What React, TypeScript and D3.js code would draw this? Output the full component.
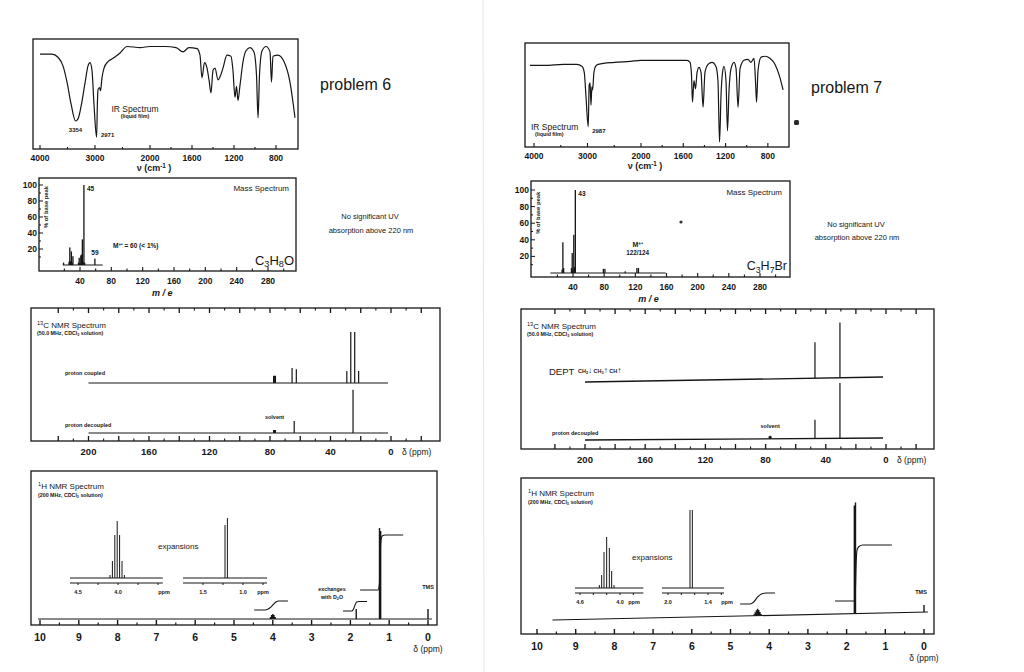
import React, { useEffect, useRef } from 'react';
import * as d3 from 'd3';

type Pt = [number, number];

// ---------------- IR spectra: [wavenumber cm-1, % transmittance] ----------------
const irTicks = [4000, 3000, 2000, 1600, 1200, 800];
const irMinor = [3500, 2500, 1800, 1400, 1000];

const ir6: Pt[] = [
  [4000, 87], [3782, 87], [3673, 84], [3582, 76], [3509, 61], [3436, 41], [3354, 25],
  [3309, 27], [3255, 38], [3182, 60], [3127, 76], [3091, 79], [3055, 72], [3018, 40],
  [2971, 10], [2955, 44], [2945, 54], [2918, 56], [2900, 53], [2873, 65], [2836, 74],
  [2764, 80], [2673, 83], [2545, 88], [2418, 94], [2182, 93], [2000, 94], [1857, 94],
  [1752, 93], [1686, 89], [1629, 93], [1552, 92], [1524, 86], [1505, 65], [1481, 79],
  [1457, 74], [1438, 63], [1419, 51], [1400, 72], [1381, 74], [1352, 63], [1333, 66],
  [1305, 74], [1267, 86], [1229, 85], [1210, 72], [1191, 47], [1176, 57], [1162, 44],
  [1143, 58], [1114, 80], [1086, 90], [1048, 93], [1010, 89], [986, 68], [971, 28],
  [957, 68], [933, 90], [895, 94], [857, 89], [843, 61], [829, 85], [781, 86],
  [724, 80], [667, 61], [619, 28],
];

const ir7: Pt[] = [
  [4075, 79], [3800, 79], [3450, 80], [3200, 80], [3100, 78], [3060, 72], [3030, 50],
  [2987, 19], [2968, 60], [2952, 62], [2935, 40], [2918, 58], [2905, 55], [2880, 72],
  [2850, 78], [2800, 80], [2500, 82], [2200, 83], [2000, 84], [1565, 84], [1536, 82],
  [1522, 69], [1513, 43], [1499, 64], [1484, 56], [1470, 72], [1451, 77], [1432, 72],
  [1413, 38], [1395, 72], [1366, 80], [1328, 82], [1291, 78], [1272, 64], [1257, 4],
  [1243, 50], [1229, 72], [1215, 78], [1196, 64], [1182, 15], [1167, 55], [1148, 76],
  [1120, 82], [1101, 76], [1082, 38], [1063, 76], [1026, 84], [988, 85], [960, 82],
  [931, 86], [917, 64], [907, 43], [893, 74], [865, 87], [827, 88], [780, 86],
  [732, 80], [694, 70], [656, 55],
];

// ---------------- mass spectra: [m/e, % of base peak] ----------------
const msTicks = [40, 80, 120, 160, 200, 240, 280];
const msYTicks = [20, 40, 60, 80, 100];

const ms6: Pt[] = [
  [19, 3], [26, 4], [27, 22], [28, 5], [29, 17], [30, 3], [31, 11], [38, 3], [39, 9],
  [40, 2], [41, 12], [42, 13], [43, 32], [44, 4], [45, 100], [46, 3], [59, 8],
];
const ms6Base: Pt = [18, 69];

const ms7: Pt[] = [
  [26, 4], [27, 37], [28, 6], [38, 6], [39, 24], [40, 4], [41, 46], [42, 7], [43, 100],
  [79, 5], [81, 5], [107, 2], [122, 6], [124, 6],
];
const ms7Base: Pt = [11, 159];

// ---------------- 13C NMR: [ppm, intensity] ----------------
const c13Labels = [200, 160, 120, 80, 40, 0];

const c6Coupled: Pt[] = [
  [77.6, 12], [77.0, 12], [76.4, 12], [65.4, 25], [62.6, 23],
  [29.2, 20], [26.6, 85], [24.0, 85], [21.4, 20],
];
const c6Decoupled: Pt[] = [[77.6, 5], [77.0, 5], [76.4, 5], [64.0, 20], [25.1, 72]];

const c7Dept: Pt[] = [[47.2, 60], [30.6, 92]];
const c7Decoupled: Pt[] = [[77.6, 4], [77.0, 5], [76.4, 4], [47.2, 31], [30.6, 92]];

// ---------------- 1H NMR: [ppm, intensity] ----------------
const h1Labels = [10, 9, 8, 7, 6, 5, 4, 3, 2, 1, 0];

const h6Peaks: Pt[] = [
  [4.06, 2], [4.03, 4], [4.0, 5], [3.97, 4], [3.94, 2], [1.85, 10], [1.25, 91], [1.22, 88], [0, 10],
];
const h6Integrals: Pt[][] = [
  [[4.48, 9], [4.2, 9], [4.08, 11], [4.0, 14], [3.92, 17], [3.85, 18], [3.61, 18]],
  [[2.19, 8], [1.96, 8], [1.92, 10], [1.88, 14], [1.84, 17], [1.78, 17.5], [1.57, 17.5]],
  [[1.75, 29], [1.29, 29], [1.255, 34], [1.235, 60], [1.215, 78], [1.18, 83], [1.1, 84], [0.64, 84]],
];
const h6ExpA: Pt[] = [[4.1, 3], [4.07, 17], [4.04, 43], [4.01, 57], [3.98, 43], [3.95, 17], [3.92, 3]];
const h6ExpB: Pt[] = [[1.225, 53], [1.195, 60]];

const h7Peaks: Pt[] = [
  [4.39, 1.5], [4.36, 3.5], [4.33, 5.5], [4.3, 7], [4.27, 5.5], [4.24, 3.5], [4.21, 1.5],
  [1.8, 108], [1.77, 111], [0, 7],
];
const h7Drift: Pt = [9.6, -0.1]; // baseline rises from left to right
const h7Integrals: Pt[][] = [
  [[4.75, 16], [4.5, 16], [4.4, 18], [4.3, 23], [4.2, 26], [4.08, 27], [3.85, 27]],
  [[2.3, 19], [1.81, 19], [1.775, 28], [1.755, 55], [1.73, 70], [1.68, 73.5], [1.58, 75], [0.83, 75]],
];
const h7ExpA: Pt[] = [[4.31, 3], [4.275, 13], [4.24, 36], [4.2, 51], [4.16, 40], [4.125, 17], [4.09, 3]];
const h7ExpB: Pt[] = [[1.67, 78], [1.635, 78]];

// ------------------------------------------------------------------
const FONT = '"Liberation Sans", Arial, Helvetica, sans-serif';
const INK = '#161616';

type Sel = d3.Selection<SVGGElement, unknown, null, undefined>;
type Opts = { anchor?: string; weight?: string; italic?: boolean };

function txt(g: Sel, x: number, y: number, s: string, size: number, o: Opts = {}) {
  return g
    .append('text')
    .attr('x', x)
    .attr('y', y + size * 0.35)
    .attr('font-family', FONT)
    .attr('font-size', size)
    .attr('font-weight', o.weight ?? 'normal')
    .attr('font-style', o.italic ? 'italic' : 'normal')
    .attr('text-anchor', o.anchor ?? 'start')
    .attr('fill', INK)
    .text(s);
}

// parts: [text, shift, size?] where shift 1 = subscript, -1 = superscript
function rich(g: Sel, x: number, y: number, parts: [string, number, number?][], size: number, o: Opts = {}) {
  const t = txt(g, x, y, '', size, o);
  let off = 0;
  parts.forEach(([s, shift, own]) => {
    const target = shift * size * (shift > 0 ? 0.2 : 0.35);
    t.append('tspan')
      .attr('dy', target - off)
      .attr('font-size', own ?? (shift ? size * 0.7 : size))
      .text(s);
    off = target;
  });
  return t;
}

function frame(g: Sel, x0: number, y0: number, x1: number, y1: number) {
  g.append('rect')
    .attr('x', x0).attr('y', y0)
    .attr('width', x1 - x0).attr('height', y1 - y0)
    .attr('fill', 'none').attr('stroke', INK).attr('stroke-width', 1.3);
}

function vticks(g: Sel, xs: number[], y: number, len: number, w = 1.1) {
  g.append('path')
    .attr('d', xs.map((x) => `M${x},${y}v${len}`).join(''))
    .attr('stroke', INK).attr('stroke-width', w);
}

function sticks(
  g: Sel, peaks: Pt[], x: (v: number) => number, base: (p: number) => number,
  h: (v: number) => number, w = 1,
) {
  g.append('path')
    .attr('d', peaks.map(([p, v]) => `M${x(p)},${base(p)}V${base(p) - h(v)}`).join(''))
    .attr('stroke', INK).attr('stroke-width', w).attr('fill', 'none');
}

function seg(g: Sel, x0: number, y0: number, x1: number, y1: number, w = 1) {
  g.append('line').attr('x1', x0).attr('y1', y0).attr('x2', x1).attr('y2', y1)
    .attr('stroke', INK).attr('stroke-width', w);
}

// ---------------- IR ----------------
function irPanel(g: Sel, box: number[], xr: number[], trace: Pt[]) {
  const [x0, y0, x1, y1] = box;
  frame(g, x0, y0, x1, y1);
  const x = d3.scaleLinear().domain([4000, 2000, 600]).range(xr);
  const y = d3.scaleLinear().domain([0, 100]).range([y1 - 1, y0 + 1]);
  vticks(g, irTicks.map(x), y1, -4);
  vticks(g, irMinor.map(x), y1, -2);
  irTicks.forEach((t) => txt(g, x(t), y1 + 9, String(t), 8.5, { anchor: 'middle', weight: 'bold' }));
  rich(g, x(2000) + 4, y1 + 19, [['ν  (cm', 0], ['-1', -1], [' )', 0]], 9, { anchor: 'middle', weight: 'bold' });
  const line = d3.line<Pt>().x((d) => x(d[0])).y((d) => y(d[1])).curve(d3.curveMonotoneX);
  g.append('path').attr('d', line(trace)).attr('fill', 'none').attr('stroke', INK).attr('stroke-width', 1.2);
  return { x, y };
}

// ---------------- mass spectrum ----------------
function msPanel(
  g: Sel, box: number[], xr: number[], yr: number[], peaks: Pt[], baseRange: Pt, axisAt: number,
) {
  const [x0, y0, x1, y1] = box;
  frame(g, x0, y0, x1, y1);
  const x = d3.scaleLinear().domain([40, 280]).range(xr);
  const y = d3.scaleLinear().domain([0, 100]).range(yr);
  const all = d3.range(20, 301, 20);
  vticks(g, all.filter((v) => v % 40 === 0).map(x), y1, -4);
  vticks(g, all.filter((v) => v % 40 !== 0).map(x), y1, -2.5);
  msTicks.forEach((t) => txt(g, x(t), y1 + 10, String(t), 8.5, { anchor: 'middle', weight: 'bold' }));
  const yt = d3.range(10, 101, 10);
  g.append('path')
    .attr('d', yt.map((v) => `M${x0},${y(v)}h${v % 20 === 0 ? 4 : 2}`).join(''))
    .attr('stroke', INK).attr('stroke-width', 1);
  msYTicks.forEach((t) => txt(g, x0 - 2, y(t), String(t), 8.5, { anchor: 'end', weight: 'bold' }));
  seg(g, x(baseRange[0]), y(0), x(baseRange[1]), y(0), 1);
  g.selectAll(null)
    .data(peaks)
    .enter()
    .append('rect')
    .attr('x', (d) => x(d[0]) - 0.65)
    .attr('width', 1.3)
    .attr('y', (d) => y(d[1]))
    .attr('height', (d) => y(0) - y(d[1]))
    .attr('fill', INK);
  txt(g, x(axisAt), y1 + 22, 'm / e', 9, { anchor: 'middle', weight: 'bold', italic: true });
  g.append('text')
    .attr('transform', `translate(${x0 + 9},${(y(100) + y(45)) / 2}) rotate(-90)`)
    .attr('text-anchor', 'middle')
    .attr('font-family', FONT).attr('font-size', 5.8).attr('font-weight', 'bold').attr('fill', INK)
    .text('% of base peak');
  return { x, y };
}

// ---------------- 13C ----------------
function cPanel(g: Sel, box: number[], xr: number[]) {
  const [x0, y0, x1, y1] = box;
  frame(g, x0, y0, x1, y1);
  const x = d3.scaleLinear().domain([200, 0]).range(xr);
  const all = d3.range(-20, 221, 10);
  const maj = all.filter((v) => v % 20 === 0).map(x);
  const min = all.filter((v) => v % 20 !== 0).map(x);
  vticks(g, maj, y1, -5, 1.3);
  vticks(g, min, y1, -2.5);
  vticks(g, maj, y0, 5, 1.3);
  vticks(g, min, y0, 2.5);
  c13Labels.forEach((t) => txt(g, x(t), y1 + 11, String(t), 9.5, { anchor: 'middle', weight: 'bold' }));
  txt(g, x(0) + 11, y1 + 11, 'δ (ppm)', 8.5);
  rich(g, x0 + 6, y0 + 17, [['13', -1], ['C NMR Spectrum', 0]], 8);
  rich(g, x0 + 6, y0 + 25, [['(50.0 MHz, CDCl', 0], ['3', 1], [' solution)', 0]], 5.3, { weight: 'bold' });
  return x;
}

// ---------------- 1H ----------------
function hPanel(g: Sel, box: number[], xr: number[]) {
  const [x0, y0, x1, y1] = box;
  frame(g, x0, y0, x1, y1);
  const x = d3.scaleLinear().domain([10, 0]).range(xr);
  const all = d3.range(0, 20.1, 1).map((v) => v / 2);
  vticks(g, all.filter((v) => Number.isInteger(v)).map(x), y1, -5, 1.4);
  vticks(g, all.filter((v) => !Number.isInteger(v)).map(x), y1, -2.5, 1.2);
  h1Labels.forEach((t) => txt(g, x(t), y1 + 12, String(t), 10.5, { anchor: 'middle', weight: 'bold' }));
  txt(g, x(0), y1 + 24, 'δ (ppm)', 8.5, { anchor: 'middle' });
  rich(g, x0 + 7, y0 + 15, [['1', -1], ['H NMR Spectrum', 0]], 8);
  rich(g, x0 + 7, y0 + 24, [['(200 MHz, CDCl', 0], ['3', 1], [' solution)', 0]], 5.3, { weight: 'bold' });
  return x;
}

function inset(
  g: Sel, dom: number[], rng: number[], extent: Pt, axisY: number, baseY: number,
  peaks: Pt[], ticksAt: number[], labels: number[], ppmX: number,
) {
  const x = d3.scaleLinear().domain(dom).range(rng);
  seg(g, x(extent[0]), axisY, x(extent[1]), axisY, 1.1);
  vticks(g, ticksAt.map(x), axisY, 2, 1);
  labels.forEach((l) => txt(g, x(l), axisY + 9, l.toFixed(1), 5.5, { anchor: 'middle', weight: 'bold' }));
  txt(g, ppmX, axisY + 9, 'ppm', 5.5, { anchor: 'middle', weight: 'bold' });
  seg(g, x(extent[0]), baseY, x(extent[1]), baseY, 1.1);
  sticks(g, peaks, x, () => baseY, (v) => v, 1);
}

function integrals(g: Sel, curves: Pt[][], x: (v: number) => number, y0: number) {
  const line = d3.line<Pt>().x((d) => x(d[0])).y((d) => y0 - d[1]).curve(d3.curveMonotoneX);
  curves.forEach((c) =>
    g.append('path').attr('d', line(c)).attr('fill', 'none').attr('stroke', INK).attr('stroke-width', 1.1),
  );
}

export default function App() {
  const ref = useRef<SVGSVGElement>(null);

  useEffect(() => {
    if (!ref.current) return;
    const svg = d3.select(ref.current);
    svg.selectAll('*').remove();
    svg.append('rect').attr('width', 1024).attr('height', 672).attr('fill', '#ffffff');
    // page fold of the scan
    svg.append('line').attr('x1', 483).attr('y1', 0).attr('x2', 484).attr('y2', 672)
      .attr('stroke', '#e4e4e4').attr('stroke-width', 1);
    const g = svg.append('g') as unknown as Sel;

    // ===== problem 6 =====
    const irL = irPanel(g, [33, 39, 298, 149], [40, 150, 297], ir6);
    txt(g, irL.x(3354), 130, '3354', 6, { anchor: 'middle', weight: 'bold' });
    txt(g, irL.x(2971) + 11, 135, '2971', 6, { anchor: 'middle', weight: 'bold' });
    txt(g, 135, 109, 'IR Spectrum', 8.5, { anchor: 'middle' });
    txt(g, 135, 116, '(liquid film)', 5.3, { anchor: 'middle', weight: 'bold' });

    const msL = msPanel(g, [39, 178, 296, 271], [80, 268], [265, 185], ms6, ms6Base, 145);
    txt(g, msL.x(45) + 3, msL.y(95), '45', 6.5, { weight: 'bold' });
    txt(g, msL.x(59), msL.y(8) - 6, '59', 6.5, { anchor: 'middle', weight: 'bold' });
    rich(g, 113, 246, [['M', 0], ['+•', -1], [' = 60 (< 1%)', 0]], 6.5, { weight: 'bold' });
    txt(g, 289, 188, 'Mass Spectrum', 8, { anchor: 'end' });
    rich(g, 294, 260, [['C', 0], ['3', 1], ['H', 0], ['8', 1], ['O', 0]], 13, { anchor: 'end' });

    txt(g, 320, 84, 'problem  6', 16);
    txt(g, 370, 216, 'No significant UV', 7.5, { anchor: 'middle' });
    txt(g, 371, 230, 'absorption above 220 nm', 7.5, { anchor: 'middle' });

    const cL = cPanel(g, [31, 308, 440, 441], [88.5, 391]);
    const cH = d3.scaleLinear().domain([0, 100]).range([0, 60]);
    seg(g, cL(200), 383, cL(2), 383, 1.2);
    sticks(g, c6Coupled, cL, () => 383, cH, 1.2);
    seg(g, cL(200), 433, cL(2), 433, 1.2);
    sticks(g, c6Decoupled, cL, () => 433, cH, 1.2);
    txt(g, 65, 373, 'proton coupled', 5.5, { weight: 'bold' });
    txt(g, 65, 425, 'proton decoupled', 5.5, { weight: 'bold' });
    txt(g, cL(77), 417, 'solvent', 5.5, { anchor: 'middle', weight: 'bold' });

    const hL = hPanel(g, [31, 471, 437, 625], [40, 428]);
    seg(g, hL(10.05), 619, hL(-0.1), 619, 1.2);
    sticks(g, h6Peaks, hL, () => 619, (v) => v, 1.4);
    integrals(g, h6Integrals, hL, 619);
    inset(g, [4.5, 4.0], [78, 118], [4.6, 3.44], 583, 578, h6ExpA, [4.5, 4.25, 4.0, 3.75, 3.5], [4.5, 4.0], 164);
    inset(g, [1.5, 1.0], [203, 243], [1.75, 0.7], 583, 578, h6ExpB, [1.5, 1.25, 1.0, 0.75], [1.5, 1.0], 263);
    txt(g, 158, 546, 'expansions', 8);
    txt(g, 332, 589, 'exchanges', 5.3, { anchor: 'middle', weight: 'bold' });
    rich(g, 332, 597, [['with D', 0], ['2', 1], ['O', 0]], 5.3, { anchor: 'middle', weight: 'bold' });
    txt(g, hL(0), 587, 'TMS', 5.5, { anchor: 'middle', weight: 'bold' });

    // ===== problem 7 =====
    const irR = irPanel(g, [525, 43, 789, 147], [534, 641, 789], ir7);
    txt(g, 531, 127, 'IR Spectrum', 8.5);
    txt(g, 535, 134, '(liquid film)', 5.3, { weight: 'bold' });
    txt(g, irR.x(2987) + 4, 131, '2987', 6, { weight: 'bold' });

    const msR = msPanel(g, [531, 181, 790, 277], [573, 760], [273, 190], ms7, ms7Base, 137);
    txt(g, msR.x(43) + 3, msR.y(95), '43', 6.5, { weight: 'bold' });
    rich(g, msR.x(123), 245, [['M', 0], ['+•', -1]], 7, { anchor: 'middle', weight: 'bold' });
    txt(g, msR.x(123), 253, '122/124', 6.3, { anchor: 'middle', weight: 'bold' });
    txt(g, 782, 192, 'Mass Spectrum', 8, { anchor: 'end' });
    rich(g, 787, 266, [['C', 0], ['3', 1], ['H', 0], ['7', 1], ['Br', 0]], 12.5, { anchor: 'end' });
    g.append('circle').attr('cx', 681).attr('cy', 222).attr('r', 1.6).attr('fill', '#333');

    txt(g, 811, 87, 'problem  7', 16);
    g.append('rect').attr('x', 794).attr('y', 120).attr('width', 5).attr('height', 5).attr('rx', 1.5).attr('fill', '#2a2a2a');
    txt(g, 856, 224, 'No significant UV', 7.5, { anchor: 'middle' });
    txt(g, 857, 237, 'absorption above 220 nm', 7.5, { anchor: 'middle' });

    const cR = cPanel(g, [521, 309, 934, 449], [585, 886]);
    const deptBase = d3.scaleLinear().domain([200, 2]).range([382, 377]);
    const decBase = d3.scaleLinear().domain([200, 2]).range([440, 438]);
    seg(g, cR(200), deptBase(200), cR(2), deptBase(2), 1.3);
    sticks(g, c7Dept, cR, deptBase, cH, 1.2);
    seg(g, cR(200), decBase(200), cR(2), decBase(2), 1.3);
    sticks(g, c7Decoupled, cR, decBase, cH, 1.2);
    txt(g, 549, 372, 'DEPT', 9.5);
    rich(
      g, 578, 371,
      [['CH', 0], ['2', 1], ['↓', 0, 8], ['  CH', 0], ['3', 1], ['↑', 0, 8], ['  CH', 0], ['↑', 0, 8]],
      5.5, { weight: 'bold' },
    );
    txt(g, 552, 433, 'proton decoupled', 5.5, { weight: 'bold' });
    txt(g, cR(77), 426, 'solvent', 5.5, { anchor: 'middle', weight: 'bold' });

    const hR = hPanel(g, [521, 478, 934, 634], [537, 924]);
    const drift = d3.scaleLinear().domain(h7Drift).range([620, 612]);
    seg(g, hR(h7Drift[0]), drift(h7Drift[0]), hR(h7Drift[1]), drift(h7Drift[1]), 1.2);
    sticks(g, h7Peaks, hR, drift, (v) => v, 1.4);
    integrals(g, h7Integrals, hR, 620);
    inset(g, [4.6, 4.0], [580, 620], [4.675, 3.65], 593, 588, h7ExpA, [4.6, 4.4, 4.2, 4.0, 3.8], [4.6, 4.0], 634);
    inset(g, [2.0, 1.4], [668, 708], [2.09, 1.16], 593, 588, h7ExpB, [2.0, 1.8, 1.6, 1.4, 1.2], [2.0, 1.4], 727);
    txt(g, 632, 557, 'expansions', 8);
    txt(g, hR(0) - 3, 592, 'TMS', 5.5, { anchor: 'middle', weight: 'bold' });
  }, []);

  return (
    <svg
      ref={ref}
      width={1024}
      height={672}
      style={{ position: 'absolute', left: 0, top: 0, background: '#fff' }}
    />
  );
}
